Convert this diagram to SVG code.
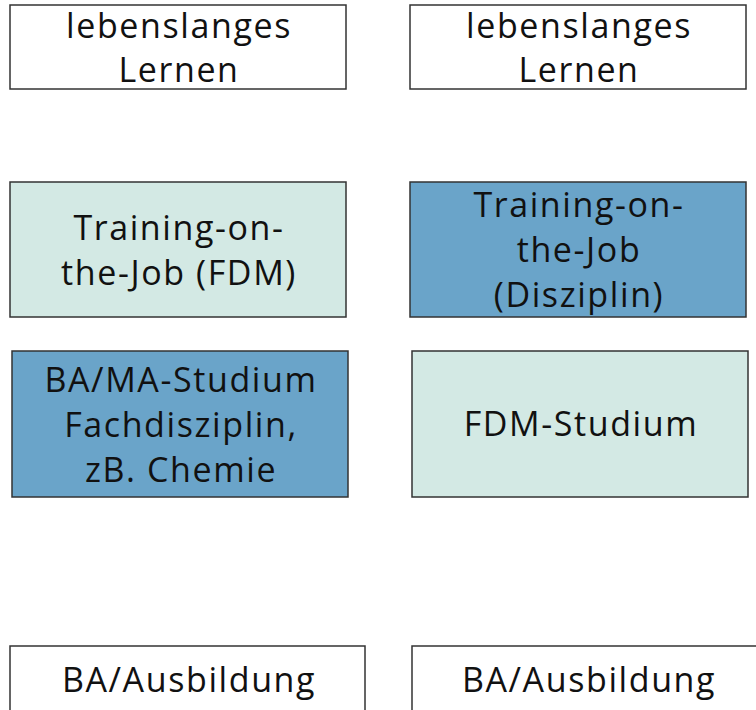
<svg xmlns="http://www.w3.org/2000/svg" width="756" height="710" viewBox="0 0 756 710">
<style>
.b{stroke:#333;stroke-width:1.5}
.w{fill:#fff}
.l{fill:#d3e9e4}
.d{fill:#6aa4c9}
text{font-family:"Open Sans","Liberation Sans",sans-serif;font-size:34px;letter-spacing:1.6px;fill:#111;text-anchor:middle}
</style>
<rect width="756" height="710" fill="#fff"/>
<g id="n1"><rect class="b w" x="10" y="5" width="336" height="84"/><text x="179" y="38">lebenslanges</text><text x="179" y="82">Lernen</text></g>
<g id="n2"><rect class="b w" x="410" y="5" width="336" height="84"/><text x="579" y="38">lebenslanges</text><text x="579" y="82">Lernen</text></g>
<g id="n3"><rect class="b l" x="10" y="182" width="336" height="135"/><text x="179" y="240">Training-on-</text><text x="179" y="285">the-Job (FDM)</text></g>
<g id="n4"><rect class="b d" x="410" y="182" width="336" height="135"/><text x="579" y="217">Training-on-</text><text x="579" y="262">the-Job</text><text x="579" y="307">(Disziplin)</text></g>
<g id="n5"><rect class="b d" x="12" y="351" width="336" height="146"/><text x="181" y="392">BA/MA-Studium</text><text x="181" y="437">Fachdisziplin,</text><text x="181" y="482">zB. Chemie</text></g>
<g id="n6"><rect class="b l" x="412" y="351" width="336" height="146"/><text x="581" y="436">FDM-Studium</text></g>
<g id="n7"><rect class="b w" x="10" y="646" width="355" height="80"/><text x="189" y="692">BA/Ausbildung</text></g>
<g id="n8"><rect class="b w" x="412" y="646" width="360" height="80"/><text x="589" y="692">BA/Ausbildung</text></g>
<g id="connectors"></g>
</svg>
